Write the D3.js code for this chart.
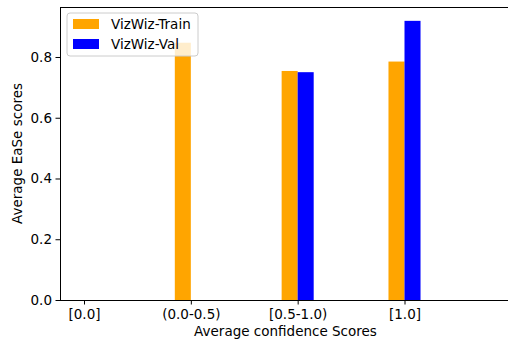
<!DOCTYPE html>
<html>
<head>
<meta charset="utf-8">
<script src="https://cdn.jsdelivr.net/npm/d3@7"></script>
<style>
  html, body { margin: 0; padding: 0; background: #fff; }
  svg { display: block; font-family: "DejaVu Sans", sans-serif; }
</style>
</head>
<body>
<svg id="chart" width="508" height="342"></svg>
<script>
// Category labels along the x axis
const categories = ["[0.0]", "(0.0-0.5)", "[0.5-1.0)", "[1.0]"];
// Average EaSe score per category for each split
const trainScores = [0, 0.847, 0.754, 0.785];
const valScores = [0, 0, 0.750, 0.919];
const yTicks = [0.0, 0.2, 0.4, 0.6, 0.8];
const seriesNames = ["VizWiz-Train", "VizWiz-Val"];
const seriesColors = ["orange", "blue"];

const svg = d3.select("#chart");
const plot = { left: 60, top: 7, bottom: 300, right: 560 };
const barWidth = 0.15;
const fontSize = 13.5;

// Category index -> pixel; left spine sits a little before the first category
const x = d3.scaleLinear().domain([0, 3]).range([84, 404.5]);
const y = d3.scaleLinear().domain([0, 0.9646]).range([plot.bottom, plot.top]);

const g = svg.append("g");

// Train bars sit just left of the tick, validation bars just right
g.selectAll("rect.train").data(trainScores).enter().append("rect")
  .attr("class", "train")
  .attr("x", (d, i) => x(i - barWidth))
  .attr("width", (d, i) => x(i) - x(i - barWidth))
  .attr("y", d => y(d))
  .attr("height", d => y(0) - y(d))
  .attr("fill", seriesColors[0]);

g.selectAll("rect.val").data(valScores).enter().append("rect")
  .attr("class", "val")
  .attr("x", (d, i) => x(i))
  .attr("width", (d, i) => x(i + barWidth) - x(i))
  .attr("y", d => y(d))
  .attr("height", d => y(0) - y(d))
  .attr("fill", seriesColors[1]);

// Axes
const xAxis = d3.axisBottom(x)
  .tickValues(d3.range(categories.length))
  .tickFormat(i => categories[i])
  .tickSizeOuter(0).tickSize(4.5).tickPadding(4.5);
const yAxis = d3.axisLeft(y)
  .tickValues(yTicks)
  .tickFormat(d3.format(".1f"))
  .tickSizeOuter(0).tickSize(4.5).tickPadding(3.5);

const gx = svg.append("g").attr("transform", `translate(0,${plot.bottom})`).call(xAxis);
gx.select(".domain").remove();
const gy = svg.append("g").attr("transform", `translate(${plot.left},0)`).call(yAxis);
gy.select(".domain").remove();

[gx, gy].forEach(a => {
  a.selectAll("text").attr("font-size", fontSize).attr("fill", "#000")
    .attr("font-family", "DejaVu Sans, sans-serif");
  a.selectAll("line").attr("stroke", "#000").attr("stroke-width", 1);
});

// Spines: left, bottom, top (the right one lies past the edge)
const spines = svg.append("g").attr("stroke", "#000").attr("stroke-width", 1)
  .attr("shape-rendering", "crispEdges");
spines.append("line").attr("x1", plot.left).attr("x2", plot.left)
  .attr("y1", plot.top).attr("y2", plot.bottom);
spines.append("line").attr("x1", plot.left).attr("x2", plot.right)
  .attr("y1", plot.bottom).attr("y2", plot.bottom);
spines.append("line").attr("x1", plot.left).attr("x2", plot.right)
  .attr("y1", plot.top).attr("y2", plot.top);

// Axis titles
svg.append("text")
  .attr("x", 285.5).attr("y", 335.5)
  .attr("text-anchor", "middle")
  .attr("font-size", fontSize)
  .text("Average confidence Scores");
svg.append("text")
  .attr("transform", `translate(21.5,${(plot.top + plot.bottom) / 2}) rotate(-90)`)
  .attr("text-anchor", "middle")
  .attr("font-size", fontSize)
  .text("Average EaSe scores");

// Legend
const legend = svg.append("g").attr("transform", "translate(67,13)");
legend.append("rect")
  .attr("width", 131).attr("height", 43).attr("rx", 3)
  .attr("fill", "#fff").attr("fill-opacity", 0.8)
  .attr("stroke", "#ccc").attr("stroke-width", 1);
seriesNames.forEach((name, i) => {
  const row = legend.append("g").attr("transform", `translate(6,${6 + i * 20})`);
  row.append("rect").attr("width", 26).attr("height", 10).attr("fill", seriesColors[i]);
  row.append("text").attr("x", 38).attr("y", 10)
    .attr("font-size", fontSize).text(name);
});
</script>
</body>
</html>
